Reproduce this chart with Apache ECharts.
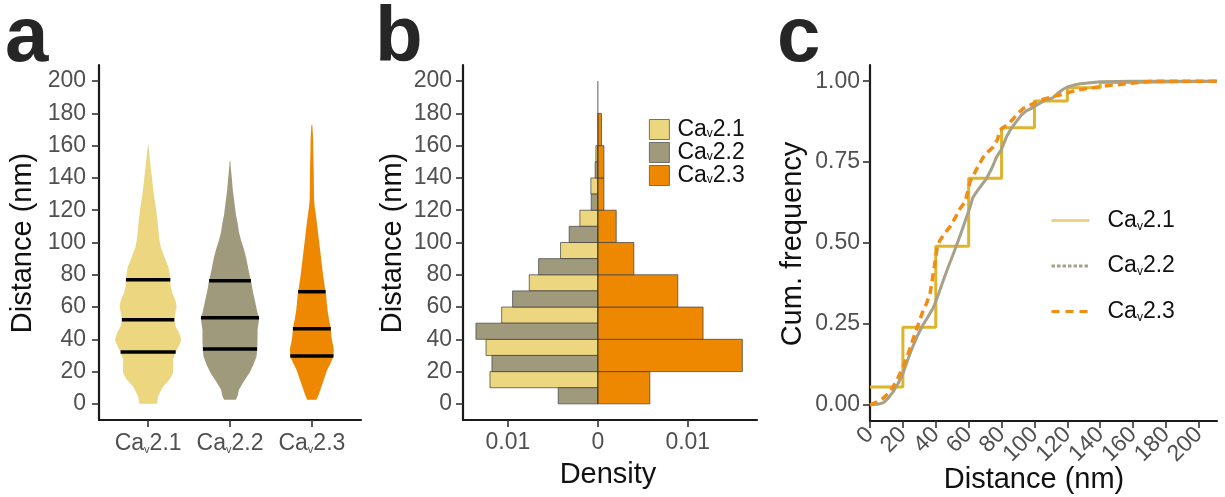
<!DOCTYPE html>
<html>
<head>
<meta charset="utf-8">
<script src="https://cdn.jsdelivr.net/npm/echarts@6/dist/echarts.min.js"></script>
<style>
  html, body { margin: 0; padding: 0; background: #ffffff; }
  #chart { width: 1225px; height: 497px; }
</style>
</head>
<body>
<div id="chart"></div>
<script>
// ---------- data ----------
const channels = ['Cav2.1', 'Cav2.2', 'Cav2.3'];

// Violin outlines: [distance (nm), relative density]
const violin21 = [[0,0.27],[4.5,0.30],[10.7,0.45],[15,0.64],[19,0.75],[23,0.76],[27.2,0.75],[31.4,0.81],[35.5,0.92],[39.6,1.0],[43.7,0.94],[47.9,0.83],[52,0.79],[56.2,0.82],[60.3,0.86],[64.4,0.82],[68.5,0.73],[72.6,0.68],[76.8,0.67],[81,0.65],[85,0.61],[89,0.53],[93.3,0.45],[97.4,0.38],[101.5,0.34],[105.6,0.32],[109.8,0.30],[116,0.27],[122.2,0.23],[130,0.17],[142.8,0.10],[150,0.06],[160.4,0.01]];
const violin22 = [[2.5,0.18],[5,0.23],[8.7,0.27],[14,0.42],[19,0.58],[24,0.70],[29.3,0.80],[34.5,0.82],[39.6,0.83],[45.8,0.83],[50,0.86],[53,0.88],[56.5,0.83],[60.2,0.79],[65,0.74],[70.6,0.68],[75.5,0.64],[80.9,0.58],[86,0.53],[91.2,0.48],[96.5,0.41],[101.5,0.33],[106.5,0.27],[111.9,0.23],[117,0.18],[122.2,0.15],[127,0.12],[132.5,0.085],[140,0.055],[145,0.03],[150.5,0.01]];
const violin23 = [[2.5,0.14],[6,0.21],[10.7,0.29],[15,0.36],[21,0.46],[25,0.56],[29.3,0.65],[33,0.66],[35.5,0.65],[38,0.62],[41.7,0.59],[47,0.57],[52,0.52],[57,0.48],[62.3,0.45],[67.5,0.43],[72.6,0.39],[78,0.35],[83,0.32],[88,0.29],[93.3,0.26],[98.5,0.23],[103.6,0.20],[109,0.17],[114,0.14],[118,0.115],[122.2,0.085],[126.3,0.067],[135,0.061],[145,0.055],[155,0.045],[165,0.036],[172.8,0.015]];
// Quartiles (25th, median, 75th) in nm
const quartiles21 = [32.2, 52.2, 76.9];
const quartiles22 = [34.0, 53.3, 76.3];
const quartiles23 = [29.7, 46.6, 69.5];

// Histogram, 20 nm bins
const binStarts = [0, 20, 40, 60, 80, 100, 120, 140, 160];
const density21 = [0.0120, 0.01244, 0.0107, 0.00763, 0.00415, 0.0020, 0.00078, 0.00022, 0];
const density22 = [0.00441, 0.01178, 0.01356, 0.00948, 0.00659, 0.00319, 0.00074, 0.0003, 0];
const density23 = [0.00578, 0.01607, 0.0117, 0.00889, 0.0040, 0.00204, 0.00067, 0.00067, 0.0004];

// Cumulative frequency: [distance (nm), fraction]
const ecdf21 = [[0,0.055],[20,0.24],[40,0.49],[60,0.70],[80,0.856],[100,0.939],[120,0.98],[140,0.996],[160,1.0],[211,1.0]];
const ecdf22 = [[0,0],[5,0.002],[8,0.006],[11,0.02],[14,0.04],[17,0.065],[20,0.096],[23,0.14],[26,0.18],[29,0.215],[32,0.245],[35,0.27],[38.5,0.30],[41.5,0.34],[44.6,0.385],[47.5,0.425],[50.7,0.467],[53.5,0.505],[56.7,0.55],[59,0.585],[60.8,0.61],[62.5,0.64],[64.8,0.658],[68,0.68],[70.9,0.70],[74,0.73],[77,0.766],[80,0.79],[83,0.828],[86,0.855],[89,0.875],[92,0.895],[95,0.908],[98,0.916],[101,0.925],[106,0.94],[111,0.948],[114,0.962],[117.5,0.975],[120,0.982],[124,0.988],[128,0.992],[134,0.995],[140,0.998],[150,0.999],[160,1.0],[211,1.0]];
const ecdf23 = [[0,0],[4,0.008],[8,0.02],[11,0.035],[14,0.055],[17,0.083],[20,0.116],[23,0.155],[26,0.2],[29,0.243],[32,0.287],[34.5,0.315],[36.5,0.343],[38,0.39],[39.5,0.44],[41,0.49],[42.5,0.508],[45.5,0.53],[48.6,0.55],[51.5,0.575],[54.7,0.606],[57.8,0.627],[59.5,0.66],[60.8,0.689],[63,0.71],[66,0.74],[69,0.766],[72,0.783],[75,0.797],[77.5,0.82],[79,0.848],[82,0.86],[85,0.872],[89,0.895],[93,0.915],[97,0.925],[101,0.935],[106,0.945],[111,0.952],[116,0.958],[122,0.967],[127,0.973],[132,0.977],[142,0.985],[152,0.99],[162,0.995],[172,1.0],[211,1.0]];

// Tick values
const distanceTicks = [0, 20, 40, 60, 80, 100, 120, 140, 160, 180, 200];
const densityTicks = [-0.01, 0, 0.01];
const freqTicks = [0, 0.25, 0.5, 0.75, 1];

// ---------- styling ----------
const FONT = '"Liberation Sans", Arial, sans-serif';
const fill = ['#ECD67F', '#A09A7C', '#EE8800'];
const stepGold = '#DEB42A';
const lineGray = '#A6A188';
const dashOrange = '#F28C12';
const tickGray = '#505050';
const TICK_FS = 23;
const VIOLIN_HALF = 0.405;   // widest violin half-width, as a share of the category spacing
const BIN = 20;

const violins = [violin21, violin22, violin23];
const quartiles = [quartiles21, quartiles22, quartiles23];

function richName(ch) {
  return '{m|Ca}{s|v}{m|' + ch.slice(3) + '}';
}

function interp(profile, d) {
  for (let k = 0; k < profile.length - 1; k++) {
    const a = profile[k], b = profile[k + 1];
    if (d >= a[0] && d <= b[0]) {
      const t = (d - a[0]) / (b[0] - a[0]);
      return a[1] + t * (b[1] - a[1]);
    }
  }
  return 0;
}

function violinItem(params, api) {
  const i = params.dataIndex;
  const pos = api.value(0);
  const prof = violins[i];
  const half = api.size([1, 0])[0] * VIOLIN_HALF;
  const right = prof.map(([d, w]) => { const p = api.coord([pos, d]); return [p[0] + w * half, p[1]]; });
  const left = prof.slice().reverse().map(([d, w]) => { const p = api.coord([pos, d]); return [p[0] - w * half, p[1]]; });
  const children = [{ type: 'polygon', shape: { points: right.concat(left) }, style: { fill: fill[i] } }];
  quartiles[i].forEach(q => {
    const w = interp(prof, q) * half;
    const p = api.coord([pos, q]);
    children.push({ type: 'line', shape: { x1: p[0] - w, y1: p[1], x2: p[0] + w, y2: p[1] },
      style: { stroke: '#000', lineWidth: 3.5 } });
  });
  return { type: 'group', children };
}

// side: -1 draws to the left of zero; part: which slice of the bin the bar occupies
function histItem(side, part, color) {
  return function (params, api) {
    const b = api.value(0), dens = api.value(1);
    if (!dens) return null;
    let lo = b, hi = b + BIN;
    if (part === 'upper') lo = b + BIN / 2;
    if (part === 'lower') hi = b + BIN / 2;
    const p1 = api.coord([side * dens, hi]);
    const p0 = api.coord([0, lo]);
    return {
      type: 'rect',
      shape: { x: Math.min(p0[0], p1[0]), y: Math.min(p0[1], p1[1]),
               width: Math.abs(p1[0] - p0[0]), height: Math.abs(p1[1] - p0[1]) },
      style: { fill: color, stroke: '#3c3c3c', lineWidth: 0.7 }
    };
  };
}

const axisLine = { show: true, onZero: false, lineStyle: { color: '#1a1a1a', width: 2.2 } };
const axisTick = (vals) => ({ show: true, customValues: vals, length: 7, lineStyle: { color: '#333', width: 1.6 } });
const labelBase = { color: tickGray, fontSize: TICK_FS, fontFamily: FONT };
const subRich = {
  m: { fontSize: TICK_FS, fontFamily: FONT, color: tickGray, lineHeight: 23 },
  s: { fontSize: 11, fontFamily: FONT, color: tickGray, lineHeight: 6, verticalAlign: 'bottom' }
};

const grids = [
  { left: 99, top: 65, width: 262, height: 355 },
  { left: 463, top: 65, width: 294, height: 355 },
  { left: 870, top: 65, width: 347, height: 356 }
].map(g => Object.assign({ containLabel: false, outerBoundsMode: 'none' }, g));

const xAxes = [
  { gridIndex: 0, type: 'value', min: 0.4, max: 3.6, axisLine, axisTick: axisTick([1, 2, 3]),
    splitLine: { show: false },
    axisLabel: Object.assign({}, labelBase, { customValues: [1, 2, 3], margin: 12,
      formatter: v => richName(channels[Math.round(v) - 1]), rich: subRich }) },
  { gridIndex: 1, type: 'value', min: -0.015, max: 0.0177, axisLine, axisTick: axisTick(densityTicks),
    splitLine: { show: false },
    axisLabel: Object.assign({}, labelBase, { customValues: densityTicks, margin: 11,
      formatter: v => (Math.abs(v) < 1e-9 ? '0' : Math.abs(v).toFixed(2)) }) },
  { gridIndex: 2, type: 'value', min: 0, max: 211, axisLine, axisTick: axisTick(distanceTicks),
    splitLine: { show: false },
    axisLabel: Object.assign({}, labelBase, { customValues: distanceTicks, margin: 10, rotate: 45 }) }
];

const yAxes = [
  { gridIndex: 0, type: 'value', min: -10, max: 210, axisLine, axisTick: axisTick(distanceTicks),
    splitLine: { show: false },
    axisLabel: Object.assign({}, labelBase, { customValues: distanceTicks, margin: 13 }) },
  { gridIndex: 1, type: 'value', min: -10, max: 210, axisLine, axisTick: axisTick(distanceTicks),
    splitLine: { show: false },
    axisLabel: Object.assign({}, labelBase, { customValues: distanceTicks, margin: 11 }) },
  { gridIndex: 2, type: 'value', min: -0.05, max: 1.05, axisLine, axisTick: axisTick(freqTicks),
    splitLine: { show: false },
    axisLabel: Object.assign({}, labelBase, { customValues: freqTicks, margin: 10,
      formatter: v => v.toFixed(2) }) }
];

const histData = d => binStarts.map((b, k) => [b, d[k]]);

const series = [
  // a: violins
  { type: 'custom', name: 'violin', xAxisIndex: 0, yAxisIndex: 0, clip: false,
    data: channels.map((c, k) => [k + 1, 0]), renderItem: violinItem, silent: true },
  // b: back-to-back histogram
  { type: 'custom', name: 'hist ' + channels[0], xAxisIndex: 1, yAxisIndex: 1,
    itemStyle: { color: fill[0], borderColor: '#555', borderWidth: 0.8 },
    data: histData(density21), renderItem: histItem(-1, 'upper', fill[0]), silent: true },
  { type: 'custom', name: 'hist ' + channels[1], xAxisIndex: 1, yAxisIndex: 1,
    itemStyle: { color: fill[1], borderColor: '#555', borderWidth: 0.8 },
    data: histData(density22), renderItem: histItem(-1, 'lower', fill[1]), silent: true },
  { type: 'custom', name: 'hist ' + channels[2], xAxisIndex: 1, yAxisIndex: 1,
    itemStyle: { color: fill[2], borderColor: '#555', borderWidth: 0.8 },
    data: histData(density23), renderItem: histItem(1, 'full', fill[2]), silent: true },
  { type: 'line', name: 'zero', xAxisIndex: 1, yAxisIndex: 1, symbol: 'none', silent: true,
    data: [[0, 0], [0, 200]], lineStyle: { color: '#333', width: 0.8 } },
  // c: cumulative frequency
  { type: 'line', name: 'ecdf ' + channels[0], xAxisIndex: 2, yAxisIndex: 2, symbol: 'none', step: 'end',
    data: ecdf21, lineStyle: { color: stepGold, width: 3 }, itemStyle: { color: stepGold } },
  { type: 'line', name: 'ecdf ' + channels[1], xAxisIndex: 2, yAxisIndex: 2, symbol: 'none',
    data: ecdf22, lineStyle: { color: lineGray, width: 3 }, itemStyle: { color: lineGray } },
  { type: 'line', name: 'ecdf ' + channels[2], xAxisIndex: 2, yAxisIndex: 2, symbol: 'none',
    data: ecdf23, lineStyle: { color: dashOrange, width: 3.5, type: [8, 5] }, itemStyle: { color: dashOrange } }
];

const legendRich = (lh, sublh) => ({
  m: { fontSize: 23, fontFamily: FONT, color: '#111', lineHeight: lh },
  s: { fontSize: 12, fontFamily: FONT, color: '#111', lineHeight: sublh, verticalAlign: 'bottom' }
});

const noMarker = { color: 'rgba(0,0,0,0)', opacity: 0, borderWidth: 0 };

const legends = [
  { orient: 'vertical', left: 649, top: 118, padding: 0, itemWidth: 20, itemHeight: 20, itemGap: 0,
    icon: 'rect', selectedMode: false,
    data: channels.map((c, k) => ({ name: 'hist ' + c,
      itemStyle: { color: fill[k], borderColor: '#555', borderWidth: 0.8 } })),
    formatter: n => richName(n.slice(5)),
    textStyle: { fontSize: 23, fontFamily: FONT, color: '#111', padding: [0, 0, 0, 3], rich: legendRich(20, 4) } },
  { orient: 'vertical', left: 1050, top: 209, padding: 0, itemWidth: 38, itemHeight: 26, itemGap: 22,
    selectedMode: false,
    data: [
      { name: 'ecdf ' + channels[0], itemStyle: noMarker, lineStyle: { color: '#EBD57F', width: 3, type: 'solid' } },
      { name: 'ecdf ' + channels[1], itemStyle: noMarker, lineStyle: { color: lineGray, width: 3, type: [3.5, 2] } },
      { name: 'ecdf ' + channels[2], itemStyle: noMarker, lineStyle: { color: dashOrange, width: 3, type: [8, 6] } }
    ],
    formatter: n => richName(n.slice(5)),
    textStyle: { fontSize: 23, fontFamily: FONT, color: '#111', padding: [0, 0, 0, 13], rich: legendRich(24, 8) } }
];

const titleStyle = { fontSize: 29, fontFamily: FONT, fill: '#111', align: 'center', verticalAlign: 'middle' };
const letterStyle = { fontSize: 78, fontWeight: 'bold', fontFamily: FONT, fill: '#262626', align: 'left', verticalAlign: 'middle' };

const graphic = [
  { type: 'text', x: 5, y: 39, style: Object.assign({ text: 'a' }, letterStyle) },
  { type: 'text', x: 375, y: 39, style: Object.assign({ text: 'b' }, letterStyle) },
  { type: 'text', x: 777, y: 39, style: Object.assign({ text: 'c' }, letterStyle) },
  { type: 'text', x: 23, y: 243, rotation: Math.PI / 2, style: Object.assign({ text: 'Distance (nm)' }, titleStyle) },
  { type: 'text', x: 393, y: 243, rotation: Math.PI / 2, style: Object.assign({ text: 'Distance (nm)' }, titleStyle) },
  { type: 'text', x: 793, y: 244, rotation: Math.PI / 2, style: Object.assign({ text: 'Cum. frequency' }, titleStyle) },
  { type: 'text', x: 608, y: 475, style: Object.assign({ text: 'Density' }, titleStyle) },
  { type: 'text', x: 1034, y: 480, style: Object.assign({ text: 'Distance (nm)' }, titleStyle) }
];

const chart = echarts.init(document.getElementById('chart'), null, { renderer: 'canvas' });
chart.setOption({
  animation: false,
  backgroundColor: '#ffffff',
  textStyle: { fontFamily: FONT },
  grid: grids,
  xAxis: xAxes,
  yAxis: yAxes,
  legend: legends,
  series,
  graphic
});
</script>
</body>
</html>
